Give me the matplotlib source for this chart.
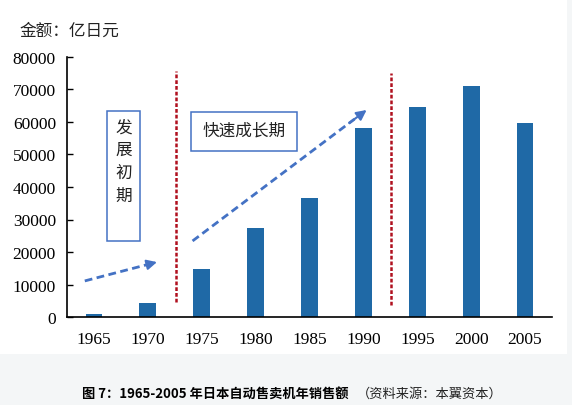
import matplotlib
matplotlib.use("Agg")
import matplotlib.pyplot as plt
from matplotlib.patches import Rectangle

years = ["1965", "1970", "1975", "1980", "1985", "1990", "1995", "2000", "2005"]
sales = [1000, 4400, 14700, 27300, 36600, 58000, 64600, 71100, 59700]
yticks = [0, 10000, 20000, 30000, 40000, 50000, 60000, 70000, 80000]

cjk = ["Noto Sans CJK SC", "DejaVu Sans"]
serif = ["Liberation Serif", "DejaVu Serif"]

fig = plt.figure(figsize=(5.72, 4.06), dpi=100)
fig.patch.set_facecolor("#f4f6f7")
bg = Rectangle((0.0, 1 - 355 / 406), 567 / 572, 355 / 406,
               transform=fig.transFigure, facecolor="white",
               edgecolor="none", zorder=-10)
fig.patches.append(bg)

ax = fig.add_axes([67 / 572, 1 - 318 / 406, (552 - 67) / 572, 260 / 406])
ax.set_facecolor("none")
x = list(range(len(years)))
ax.bar(x, sales, width=0.31, color="#1f69a6", zorder=2)

ax.set_xlim(-0.5, len(years) - 0.5)
ax.set_ylim(0, 80000)
ax.set_yticks(yticks)
ax.set_yticklabels([str(v) for v in yticks], family=serif, fontsize=12.5)
ax.set_xticks(x)
ax.set_xticklabels(years, family=serif, fontsize=12.5)
ax.tick_params(axis="x", length=0, pad=10)
ax.tick_params(axis="y", direction="in", length=4, width=1, pad=8)
for s in ["top", "right"]:
    ax.spines[s].set_visible(False)
for s in ["left", "bottom"]:
    ax.spines[s].set_linewidth(1.2)
    ax.spines[s].set_color("black")

# red dividers
red = "#b0101e"
ax.plot([1.52, 1.52], [4600, 75700], ls=(0, (1.5, 0.8)), color=red, lw=1.8, zorder=3)
ax.plot([5.51, 5.51], [3700, 75000], ls=(0, (1.5, 0.8)), color=red, lw=1.8, zorder=3)

# boxes
blue = "#4472c4"
ax.add_patch(Rectangle((0.24, 23400), 0.61, 40000, facecolor="white",
                       edgecolor=blue, lw=1.1, zorder=4))
ax.text(0.545, 48000, "发\n展\n初\n期", family=cjk, fontsize=12, ha="center",
        va="center", linespacing=1.45, color="#222222", zorder=5)
ax.add_patch(Rectangle((1.8, 51100), 1.96, 12000, facecolor="white",
                       edgecolor=blue, lw=1.1, zorder=4))
ax.text(2.78, 57600, "快速成长期", family=cjk, fontsize=12, ha="center",
        va="center", color="#222222", zorder=5)

# dashed arrows
def dashed_arrow(x0, y0, x1, y1):
    ax.plot([x0, x0 + (x1 - x0) * 0.93], [y0, y0 + (y1 - y0) * 0.93],
            ls=(0, (2.8, 1.6)), color=blue, lw=2, zorder=3)
    ax.annotate("", xy=(x1, y1), xytext=(x0 + (x1 - x0) * 0.9, y0 + (y1 - y0) * 0.9),
                arrowprops=dict(arrowstyle="-|>,head_length=0.6,head_width=0.3",
                                color=blue, lw=1.5, shrinkA=0, shrinkB=0), zorder=3)

dashed_arrow(-0.17, 11100, 1.17, 16900)
dashed_arrow(1.83, 23400, 5.06, 63700)

fig.text(20 / 572, 1 - 31 / 406, "金额：亿日元", family=cjk, fontsize=12,
         ha="left", va="center", color="#222222")

t1 = fig.text(82 / 572, 1 - 394 / 406, "图 7：1965-2005 年日本自动售卖机年销售额",
              family=cjk, fontsize=9.5, fontweight="bold", ha="left", va="center")
fig.canvas.draw()
bb = t1.get_window_extent()
fig.text((bb.x1 + 8) / 572, 1 - 394 / 406, "（资料来源：本翼资本）",
         family=cjk, fontsize=9.5, ha="left", va="center", color="#222222")

fig.savefig("out.png", dpi=100, facecolor=fig.get_facecolor())
